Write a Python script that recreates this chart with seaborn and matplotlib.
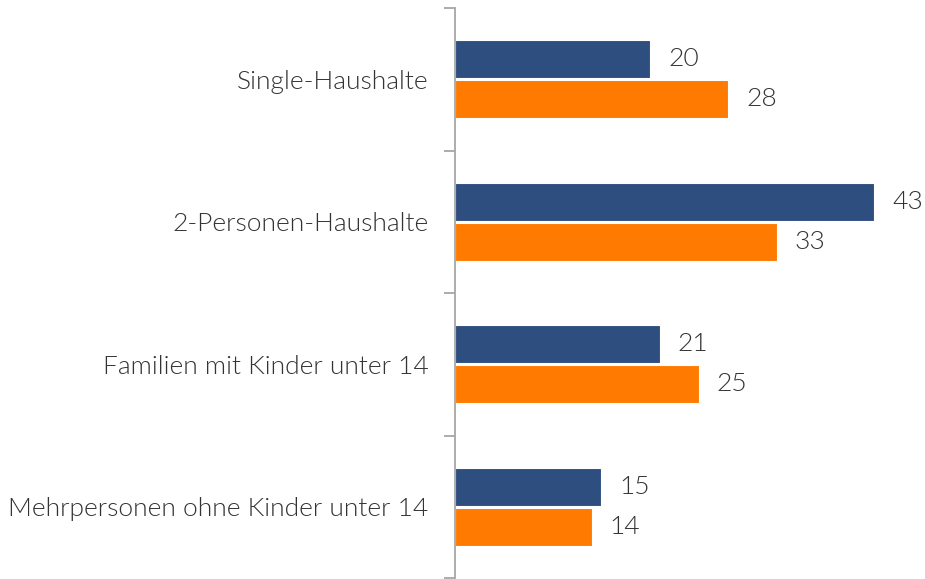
import pandas as pd
import matplotlib.pyplot as plt
import seaborn as sns

categories = ['Single-Haushalte', '2-Personen-Haushalte', 'Familien mit Kinder unter 14',
              'Mehrpersonen ohne Kinder unter 14']
series_names = ['Serie 1', 'Serie 2']
values_1 = [20, 43, 21, 15]
values_2 = [28, 33, 25, 14]

df = pd.DataFrame({
    'Kategorie': categories * 2,
    'Serie': [series_names[0]] * 4 + [series_names[1]] * 4,
    'Wert': values_1 + values_2,
})

sns.set_style('white')
plt.rcParams['font.family'] = ['Lato', 'DejaVu Sans']

fig = plt.figure(figsize=(9.25, 5.79), dpi=100)
ax = fig.add_axes([455 / 925, 1 / 579, 470 / 925, 570 / 579])

sns.barplot(data=df, y='Kategorie', x='Wert', hue='Serie', orient='h',
            palette=['#2E4E7F', '#FF7A00'], saturation=1, width=0.56, gap=0.05,
            edgecolor='white', linewidth=0.8, legend=False, ax=ax)

for cont in ax.containers:
    ax.bar_label(cont, padding=13, fontsize=19, fontweight=300, color='#333333')

ax.set_xlim(0, 48.2)
ax.set_ylim(3.5, -0.5)
ax.set_xlabel('')
ax.set_ylabel('')
ax.xaxis.set_visible(False)
for s in ['top', 'right', 'bottom']:
    ax.spines[s].set_visible(False)
ax.spines['left'].set_color('#A6A6A6')
ax.spines['left'].set_linewidth(1.3)

ax.set_yticks([-0.5, 0.5, 1.5, 2.5, 3.5], minor=True)
ax.tick_params(axis='y', which='minor', length=8, width=1.3, color='#A6A6A6', direction='out', left=True)
ax.tick_params(axis='y', which='major', length=0, pad=19, labelsize=19, labelcolor='#333333')
for lab in ax.get_yticklabels():
    lab.set_fontweight(300)

fig.savefig('out.png', dpi=100)
